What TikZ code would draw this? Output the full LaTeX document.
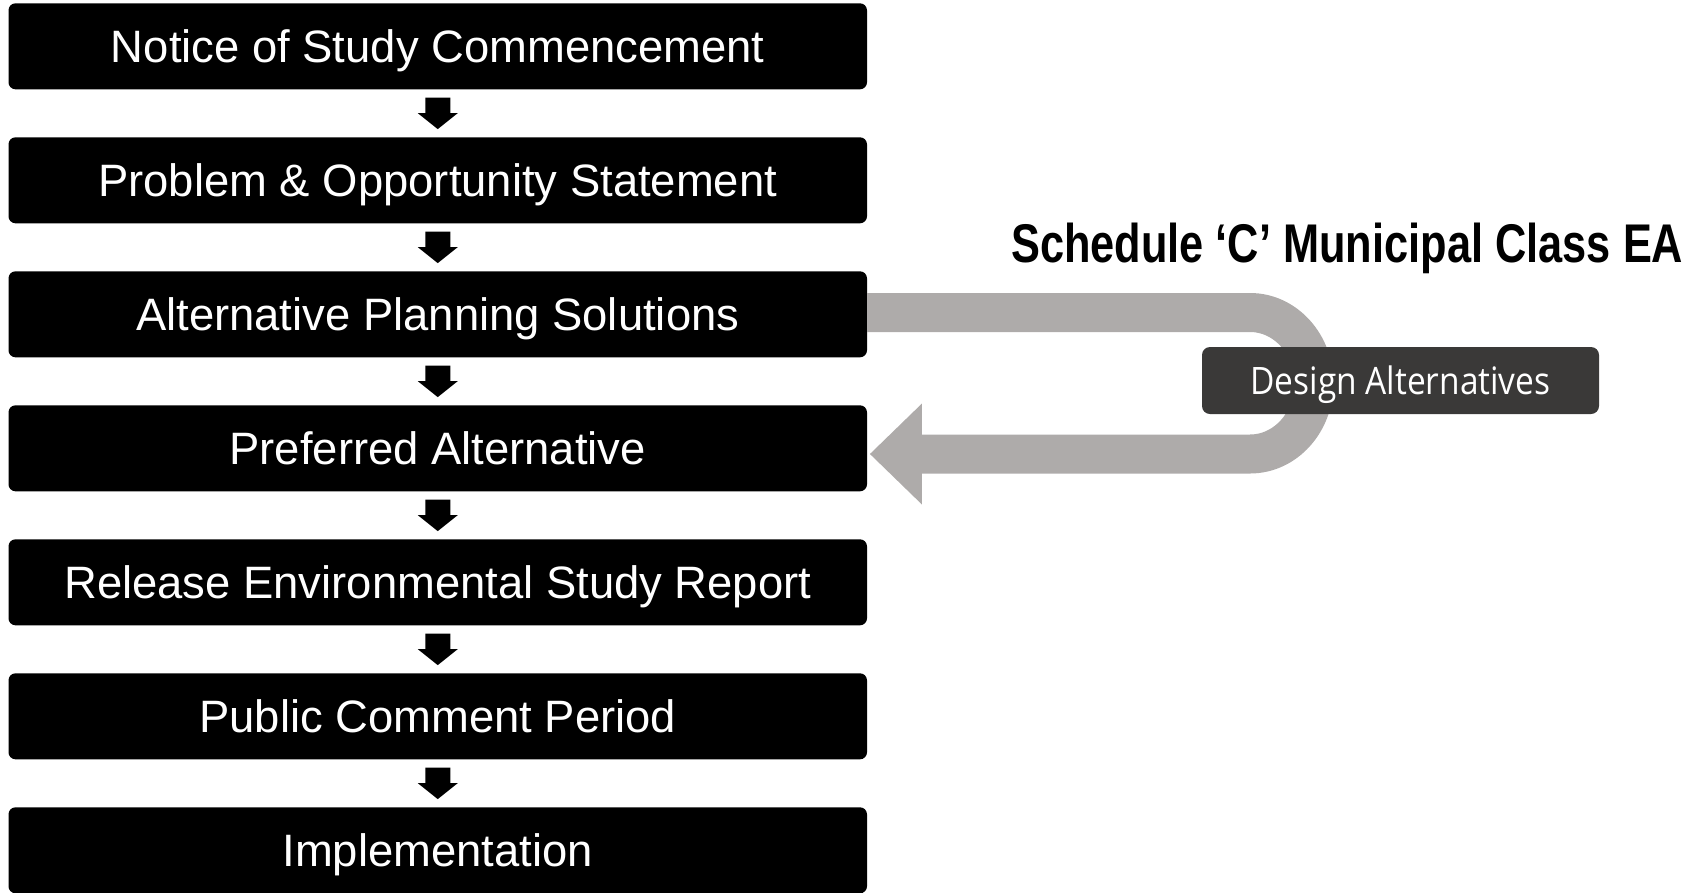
\documentclass[tikz,border=0pt]{standalone}
\usepackage{fontspec}
\usepackage{graphicx}
\setmainfont{Liberation Sans}
\newfontfamily\designfont{Open Sans}
\usetikzlibrary{calc}
\definecolor{loopgray}{RGB}{174,171,170}
\definecolor{darkbox}{RGB}{58,57,56}
\tikzset{
  stepbox/.style={fill=black, rounded corners=7pt, minimum width=858.5pt,
    minimum height=86pt, inner sep=0pt, text=white,
    font=\fontsize{45.4}{50}\selectfont, text height=32.5pt, text depth=0pt},
  flowarrow/.style={fill=black},
  loopband/.style={draw=loopgray, line width=39pt},
  loophead/.style={fill=loopgray},
  altbox/.style={fill=darkbox, rounded corners=8pt, minimum width=397pt,
    minimum height=67pt, inner sep=0pt, text=white, text height=27pt, text depth=0pt},
  heading/.style={inner sep=0pt, anchor=base west}
}
\begin{document}
\begin{tikzpicture}[x=1pt,y=-1pt]
\useasboundingbox (0,0) rectangle (1706,892);

% process steps
\node[stepbox] (n1) at (437.75,46.3)  {Notice of Study Commencement};
\node[stepbox] (n2) at (437.75,180.3) {Problem \& Opportunity Statement};
\node[stepbox] (n3) at (437.75,314.3) {Alternative Planning Solutions};
\node[stepbox] (n4) at (437.75,448.3) {Preferred Alternative};
\node[stepbox] (n5) at (437.75,582.3) {Release Environmental Study Report};
\node[stepbox] (n6) at (437.75,716.3) {Public Comment Period};
\node[stepbox] (n7) at (437.75,850.3) {Implementation};

% block arrows between consecutive steps
\foreach \a/\b in {n1/n2,n2/n3,n3/n4,n4/n5,n5/n6,n6/n7}{
  \fill[flowarrow] ($(\a.south)+(-12.5,8)$) -- ($(\a.south)+(12.5,8)$)
    -- ($(\b.north)+(12.5,-24)$) -- ($(\b.north)+(20,-24)$)
    -- ($(\b.north)+(0,-8)$)
    -- ($(\b.north)+(-20,-24)$) -- ($(\b.north)+(-12.5,-24)$) -- cycle;
}

% feedback loop from planning solutions back to the preferred alternative
\coordinate (tip) at ($(n4.east)+(2.75,5.7)$);
\coordinate (turn) at (1250,312.5);
\draw[loopband] ($(n3.east)+(0,-1.8)$) -- (turn)
  arc[start angle=-90, end angle=90, x radius=64, y radius=70.75]
  -- ($(tip)+(51,0)$);
\fill[loophead] (tip) -- ($(tip)+(52,-50.5)$) -- ($(tip)+(52,50.5)$) -- cycle;

\node[altbox] (da) at (1400.5,380.5)
  {\resizebox{300pt}{\height}{\designfont\fontsize{37.8}{40}\selectfont Design Alternatives}};

\node[heading] (title) at (1011,262)
  {\resizebox{672pt}{\height}{\fontsize{54.5}{60}\selectfont\bfseries Schedule ‘C’ Municipal Class EA}};
\end{tikzpicture}
\end{document}
